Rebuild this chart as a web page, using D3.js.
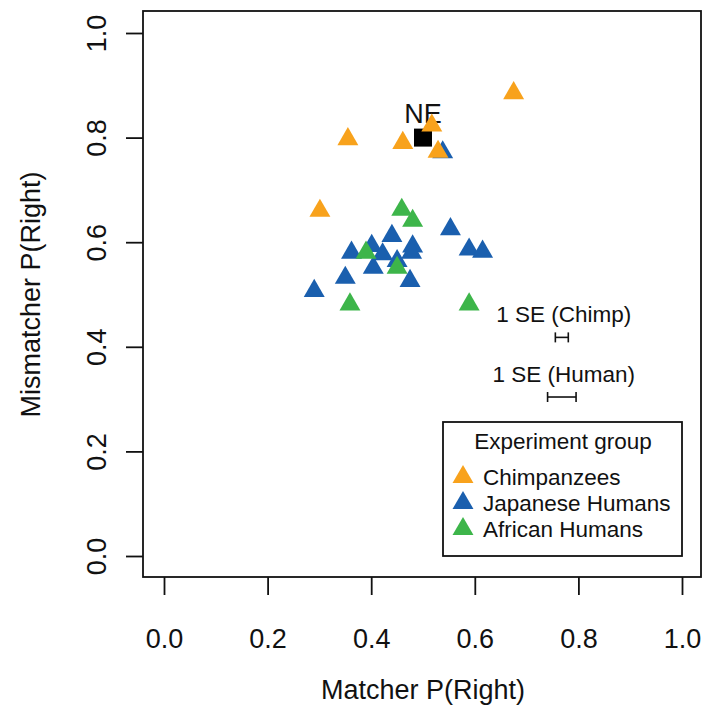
<!DOCTYPE html>
<html>
<head>
<meta charset="utf-8">
<script src="https://cdn.jsdelivr.net/npm/d3@7"></script>
<style>
	body { margin: 0; background: #fff; }
	text { font-family: "Liberation Sans", Arial, sans-serif; fill: #111; }
</style>
</head>
<body>
<div id="chart"></div>
<script>
	///////////////////////////////////////////////////////////////////////////
	////////////////////////////////// Data ///////////////////////////////////
	///////////////////////////////////////////////////////////////////////////

	var groups = ["Chimpanzees", "Japanese Humans", "African Humans"];
	var groupColors = ["#F8A21C", "#1A5FAE", "#3DB54A"];

	//[matcher P(Right), mismatcher P(Right)]
	var chimpanzees = [
		[0.675, 0.885], [0.355, 0.797], [0.517, 0.823],
		[0.461, 0.790], [0.529, 0.773], [0.301, 0.660]
	];
	var japaneseHumans = [
		[0.538, 0.772], [0.553, 0.625], [0.440, 0.612], [0.362, 0.580],
		[0.401, 0.593], [0.422, 0.577], [0.480, 0.592], [0.478, 0.580],
		[0.589, 0.586], [0.615, 0.582], [0.450, 0.564], [0.404, 0.551],
		[0.350, 0.532], [0.475, 0.526], [0.290, 0.507]
	];
	var africanHumans = [
		[0.459, 0.662], [0.480, 0.641], [0.390, 0.580],
		[0.450, 0.551], [0.359, 0.481], [0.589, 0.481]
	];

	var nePoint = [0.5, 0.8];

	//1 SE bars: centre x, y and half width
	var seLabels = ["1 SE (Chimp)", "1 SE (Human)"];
	var seBars = [[0.768, 0.418, 0.0125], [0.768, 0.304, 0.0275]];

	var xTicks = [0, 0.2, 0.4, 0.6, 0.8, 1.0];
	var yTicks = [0, 0.2, 0.4, 0.6, 0.8, 1.0];

	///////////////////////////////////////////////////////////////////////////
	//////////////////// Set up and initiate svg containers ///////////////////
	///////////////////////////////////////////////////////////////////////////

	var width = 703, height = 706;

	var svg = d3.select("#chart").append("svg")
		.attr("width", width)
		.attr("height", height);

	var x = d3.scaleLinear().domain([0, 1]).range([164, 682]);
	var y = d3.scaleLinear().domain([0, 1]).range([556, 33]);

	var box = {left: 143, right: 701, top: 11, bottom: 577};

	///////////////////////////////////////////////////////////////////////////
	///////////////////////////////// Axes ////////////////////////////////////
	///////////////////////////////////////////////////////////////////////////

	var xAxis = svg.append("g")
		.attr("transform", "translate(0," + box.bottom + ")")
		.call(d3.axisBottom(x).tickValues(xTicks).tickFormat(d3.format(".1f"))
			.tickSize(18).tickPadding(34));
	xAxis.select(".domain").remove();
	xAxis.selectAll("line").attr("stroke", "#111").attr("stroke-width", 1.8);
	xAxis.selectAll("text").style("font-size", "27px").attr("fill", "#111");

	var yAxis = svg.append("g")
		.attr("transform", "translate(" + box.left + ",0)")
		.call(d3.axisLeft(y).tickValues(yTicks).tickFormat(d3.format(".1f")).tickSize(17));
	yAxis.select(".domain").remove();
	yAxis.selectAll("line").attr("stroke", "#111").attr("stroke-width", 1.8);
	yAxis.selectAll("text")
		.style("font-size", "27px")
		.attr("fill", "#111")
		.attr("text-anchor", "middle")
		.attr("transform", "rotate(-90)")
		.attr("x", 0)
		.attr("y", -37)
		.attr("dy", 0);

	//Frame
	svg.append("rect")
		.attr("x", box.left)
		.attr("y", box.top)
		.attr("width", box.right - box.left)
		.attr("height", box.bottom - box.top)
		.style("fill", "none")
		.style("stroke", "#111")
		.style("stroke-width", 1.8);

	//Axis titles
	svg.append("text")
		.attr("x", (x(0) + x(1)) / 2)
		.attr("y", 699)
		.style("text-anchor", "middle")
		.style("font-size", "27px")
		.text("Matcher P(Right)");

	svg.append("text")
		.attr("transform", "translate(40," + (y(0) + y(1)) / 2 + ") rotate(-90)")
		.style("text-anchor", "middle")
		.style("font-size", "27px")
		.text("Mismatcher P(Right)");

	///////////////////////////////////////////////////////////////////////////
	//////////////////////////////// Points ///////////////////////////////////
	///////////////////////////////////////////////////////////////////////////

	var triangle = d3.symbol().type(d3.symbolTriangle).size(190);

	//NE reference point
	svg.append("path")
		.attr("d", d3.symbol().type(d3.symbolSquare).size(324)())
		.attr("transform", "translate(" + x(nePoint[0]) + "," + y(nePoint[1]) + ")")
		.style("fill", "#000");

	svg.append("text")
		.attr("x", x(nePoint[0]))
		.attr("y", y(nePoint[1]) - 15)
		.style("text-anchor", "middle")
		.style("font-size", "27px")
		.text("NE");

	function drawGroup(data, color) {
		svg.append("g").selectAll("path")
			.data(data)
			.enter().append("path")
			.attr("d", triangle)
			.attr("transform", function(d) { return "translate(" + x(d[0]) + "," + y(d[1]) + ")"; })
			.style("fill", color);
	}

	drawGroup(japaneseHumans, groupColors[1]);
	drawGroup(africanHumans, groupColors[2]);
	drawGroup(chimpanzees, groupColors[0]);

	///////////////////////////////////////////////////////////////////////////
	/////////////////////////////// SE bars ///////////////////////////////////
	///////////////////////////////////////////////////////////////////////////

	var seWrapper = svg.append("g").attr("class", "seWrapper");

	seBars.forEach(function(b, i) {
		var x0 = x(b[0] - b[2]), x1 = x(b[0] + b[2]), yy = y(b[1]);
		seWrapper.append("line")
			.attr("x1", x0).attr("x2", x1).attr("y1", yy).attr("y2", yy)
			.style("stroke", "#111").style("stroke-width", 1.6);
		[x0, x1].forEach(function(xe) {
			seWrapper.append("line")
				.attr("x1", xe).attr("x2", xe).attr("y1", yy - 5).attr("y2", yy + 5)
				.style("stroke", "#111").style("stroke-width", 1.6);
		});
		seWrapper.append("text")
			.attr("x", x(b[0]) + 2)
			.attr("y", yy - 15)
			.style("text-anchor", "middle")
			.style("font-size", "22.5px")
			.text(seLabels[i]);
	});

	///////////////////////////////////////////////////////////////////////////
	//////////////////////////////// Legend ///////////////////////////////////
	///////////////////////////////////////////////////////////////////////////

	var legend = svg.append("g")
		.attr("class", "legend")
		.attr("transform", "translate(443,422)");

	legend.append("rect")
		.attr("width", 239)
		.attr("height", 134)
		.style("fill", "#fff")
		.style("stroke", "#111")
		.style("stroke-width", 1.8);

	legend.append("text")
		.attr("x", 120)
		.attr("y", 27)
		.style("text-anchor", "middle")
		.style("font-size", "22.5px")
		.text("Experiment group");

	var items = legend.selectAll(".item")
		.data(groups)
		.enter().append("g")
		.attr("class", "item")
		.attr("transform", function(d, i) { return "translate(0," + (55 + i * 26) + ")"; });

	items.append("path")
		.attr("d", triangle)
		.attr("transform", "translate(20,0)")
		.style("fill", function(d, i) { return groupColors[i]; });

	items.append("text")
		.attr("x", 40)
		.attr("y", 8)
		.style("font-size", "22.5px")
		.text(function(d) { return d; });
</script>
</body>
</html>
